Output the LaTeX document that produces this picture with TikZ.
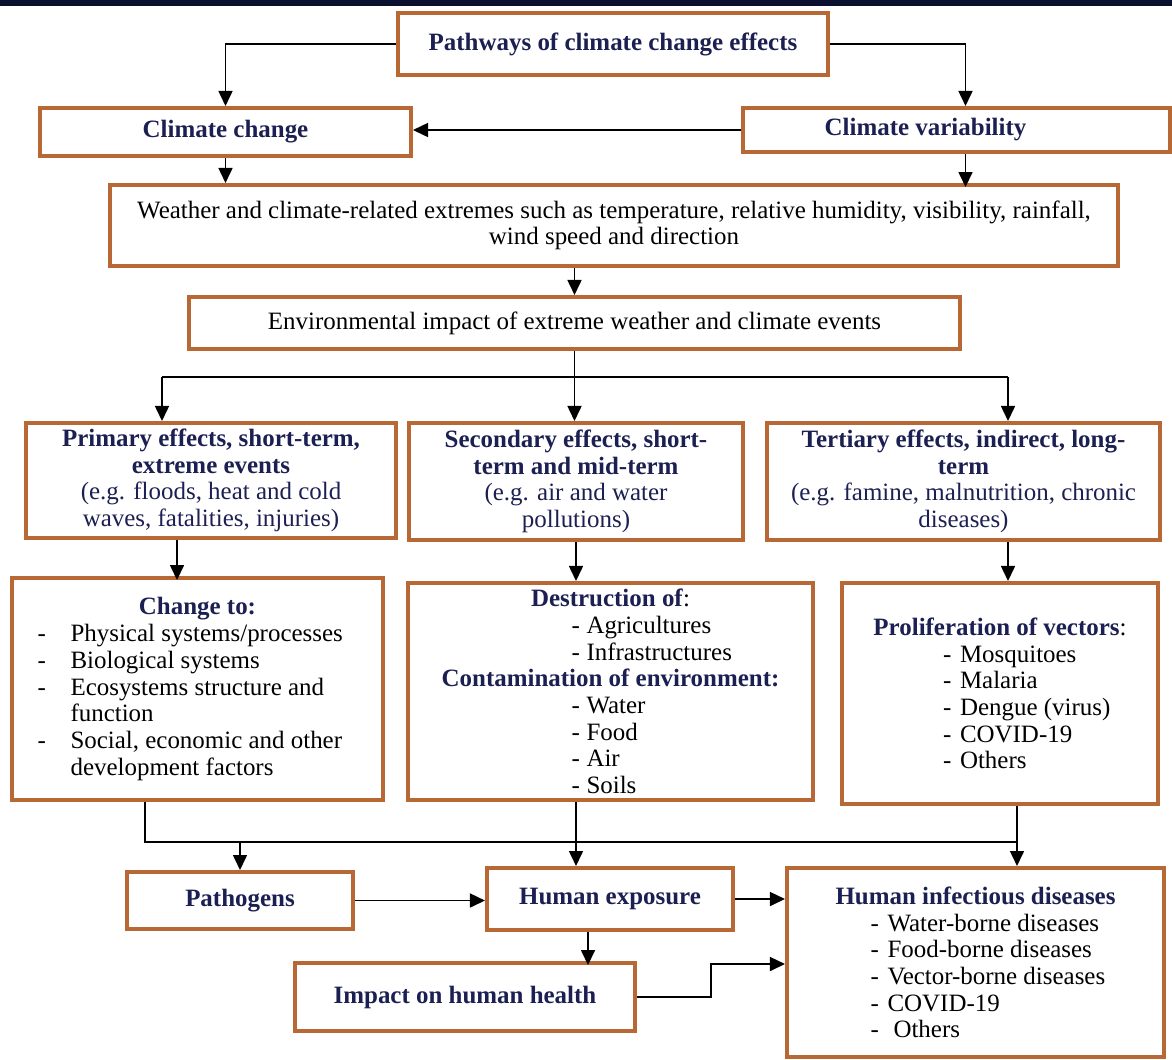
\documentclass[tikz,border=0pt]{standalone}
\usepackage{fontspec}
\setmainfont{Liberation Serif}
\usetikzlibrary{arrows.meta}
\definecolor{navy}{RGB}{27,31,82}
\definecolor{rust}{RGB}{184,104,52}
\definecolor{topbar}{RGB}{10,17,46}
\newcommand{\hd}[1]{\textcolor{navy}{\textbf{#1}}}
\newcommand{\eg}[1]{\textcolor{navy}{#1}}
\newcommand{\itm}[4][-]{\makebox[#2][l]{\makebox[#3][l]{#1}#4}}

\begin{document}
\begin{tikzpicture}[x=0.02cm, y=-0.02cm,
    box/.style={draw=rust, line width=2.3pt, inner sep=1pt, align=center, font=\fontsize{14.2}{15.2}\selectfont},
    sz/.style 2 args={minimum width=#1*0.02cm, minimum height=#2*0.02cm},
    arr/.style={-{Triangle[length=0.3cm,width=0.28cm]}, line width=0.9pt},
    ln/.style={line width=0.9pt}]
    \useasboundingbox (0,0) rectangle (1172,1059);
    \fill[topbar] (0,0) rectangle (1172,6);

    \node[box, sz={430}{62}] (title) at (613,44) {\hd{Pathways of climate change effects}};
    \node[box, sz={371}{48}] (cc) at (225.5,132) {\hd{Climate change}};
    \node[box, sz={427}{44}] (cv) at (956.5,130) {\hd{Climate variability}\hspace{1.24cm}};
    \node[box, sz={1008}{81}] (wx) at (614,225.5) {Weather and climate-related extremes such as temperature, relative humidity, visibility, rainfall,\\wind speed and direction};
    \node[box, sz={771}{52}] (env) at (574.5,323) {Environmental impact of extreme weather and climate events};

    \node[box, sz={370}{115}] (prim) at (211,480.5) {\hd{Primary effects, short-term,}\\\hd{extreme events}\\\eg{(e.g. floods, heat and cold}\\\eg{waves, fatalities, injuries)}};
    \node[box, sz={334}{117}] (sec) at (576,481.5) {\hd{Secondary effects, short-}\\\hd{term and mid-term}\\\eg{(e.g. air and water}\\\eg{pollutions)}};
    \node[box, sz={393}{117}] (ter) at (963.5,481.5) {\hd{Tertiary effects, indirect, long-}\\\hd{term}\\\eg{(e.g. famine, malnutrition, chronic}\\\eg{diseases)}};

    \node[box, sz={371}{222}] (chg) at (197.5,689) {\hd{Change to:}\\
        \itm{6.4cm}{0.66cm}{Physical systems/processes}\\
        \itm{6.4cm}{0.66cm}{Biological systems}\\
        \itm{6.4cm}{0.66cm}{Ecosystems structure and}\\
        \itm[]{6.4cm}{0.66cm}{function}\\
        \itm{6.4cm}{0.66cm}{Social, economic and other}\\
        \itm[]{6.4cm}{0.66cm}{development factors}};
    \node[box, sz={405}{217}] (dest) at (610.5,691.5) {\hd{Destruction of}:\\
        \itm{1.56cm}{0.3cm}{Agricultures}\\
        \itm{1.56cm}{0.3cm}{Infrastructures}\\
        \hd{Contamination of environment:}\\
        \itm{1.56cm}{0.3cm}{Water}\\
        \itm{1.56cm}{0.3cm}{Food}\\
        \itm{1.56cm}{0.3cm}{Air}\\
        \itm{1.56cm}{0.3cm}{Soils}};
    \node[box, sz={316}{221}] (prol) at (1000,693.5) {\hd{Proliferation of vectors}:\\
        \itm{2.28cm}{0.34cm}{Mosquitoes}\\
        \itm{2.28cm}{0.34cm}{Malaria}\\
        \itm{2.28cm}{0.34cm}{Dengue (virus)}\\
        \itm{2.28cm}{0.34cm}{COVID-19}\\
        \itm{2.28cm}{0.34cm}{Others}};

    \node[box, sz={226}{57}] (patho) at (240,900.5) {\hd{Pathogens}};
    \node[box, sz={246}{62}] (expo) at (610,899) {\hd{Human exposure}};
    \node[box, sz={340}{68}] (imp) at (465,997) {\hd{Impact on human health}};
    \node[box, sz={377}{189}] (inf) at (975.5,962.5) {\hd{Human infectious diseases}\\
        \itm{4.2cm}{0.34cm}{Water-borne diseases}\\
        \itm{4.2cm}{0.34cm}{Food-borne diseases}\\
        \itm{4.2cm}{0.34cm}{Vector-borne diseases}\\
        \itm{4.2cm}{0.34cm}{COVID-19}\\
        \itm{4.2cm}{0.46cm}{Others}};

    \coordinate (jl) at (162,377);
    \coordinate (jr) at (1008,377);
    \coordinate (lb) at (145,842);
    \coordinate (rb) at (1017,842);
    \coordinate (hk) at (711,964);

    \draw[arr] (title.west) -| (cc.north);
    \draw[arr] (title.east) -| ([xshift=0.18cm]cv.north);
    \draw[arr] (cv.west) -- (cv.west -| cc.east);
    \draw[arr] (cc.south) -- (cc.south |- wx.north);
    \draw[arr] ([xshift=0.18cm]cv.south) -- ++(0,33);
    \draw[arr] (wx.south -| env.north) -- (env.north);
    \draw[ln] (env.south) |- (jl);
    \draw[ln] (env.south) |- (jr);
    \draw[arr] (jl) -- (jl |- prim.north);
    \draw[arr] (env.south) -- (env.south |- sec.north);
    \draw[arr] (jr) -- (jr |- ter.north);
    \draw[arr] ([xshift=-0.68cm]prim.south) -- ++(0,40);
    \draw[arr] (sec.south) -- (sec.south |- dest.north);
    \draw[arr] (jr |- ter.south) -- (jr |- prol.north);
    \draw[ln] (lb |- chg.south) -- (lb) -- (rb);
    \draw[arr] (rb |- prol.south) -- (rb |- inf.north);
    \draw[arr] (patho.north |- lb) -- (patho.north);
    \draw[arr] (sec.south |- dest.south) -- (sec.south |- expo.north);
    \draw[arr] (patho.east) -- (patho.east -| expo.west);
    \draw[arr] (expo.east) -- (expo.east -| inf.west);
    \draw[arr] ([xshift=-0.44cm]expo.south) -- ++(0,33);
    \draw[arr] (imp.east) -| (hk) -- (hk -| inf.west);
\end{tikzpicture}
\end{document}
